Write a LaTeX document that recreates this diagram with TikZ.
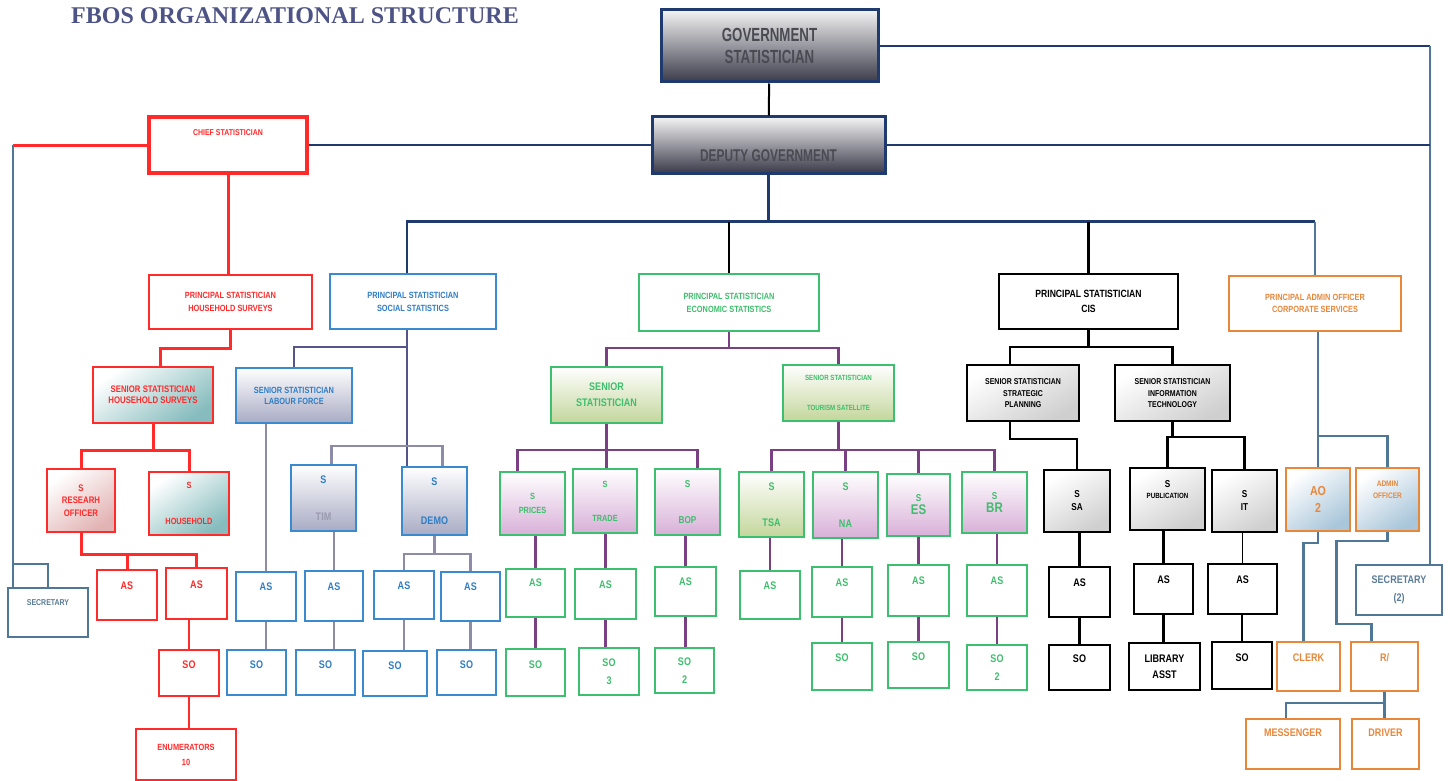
\documentclass[tikz,border=0pt]{standalone}
\usepackage{fontspec}
\newfontfamily\chartfont[FakeStretch=0.82]{Liberation Sans}
\newfontfamily\headfont[FakeStretch=0.7]{Liberation Sans}
\newfontfamily\titlefont{Liberation Serif}
\usetikzlibrary{positioning}
\usetikzlibrary{calc}

\definecolor{govNavy}{HTML}{1F3A6E}
\definecolor{steel}{HTML}{4F7796}
\definecolor{steelText}{HTML}{5B7C98}
\definecolor{chartRed}{HTML}{FF2A2A}
\definecolor{socBlue}{HTML}{3A8AD0}
\definecolor{socText}{HTML}{2E7DC6}
\definecolor{socLineC}{HTML}{55558A}
\definecolor{socGray}{HTML}{8C8CA8}
\definecolor{timGray}{HTML}{9A9AAE}
\definecolor{ecoGreen}{HTML}{3CC070}
\definecolor{ecoText}{HTML}{3DBE6C}
\definecolor{ecoPurple}{HTML}{7B3F84}
\definecolor{adminOrange}{HTML}{E8873A}
\definecolor{titleBlue}{HTML}{4D5385}
\definecolor{topLight}{HTML}{F4F4F4}
\definecolor{topDark}{HTML}{3A3A4A}
\definecolor{topText}{HTML}{4A4A52}
\definecolor{tealFill}{HTML}{86BCBD}
\definecolor{pinkFill}{HTML}{E2B3B3}
\definecolor{slateFill}{HTML}{A8ABC4}
\definecolor{oliveFill}{HTML}{C3D69B}
\definecolor{lavFill}{HTML}{D8B0D8}
\definecolor{grayFill}{HTML}{CFCFCF}
\definecolor{iceFill}{HTML}{A9C6DA}

\tikzset{
  box/.style={draw, line width=1.5pt, align=center, inner sep=1pt, fill=white},
  wh/.style 2 args={minimum width=#1pt, minimum height=#2pt},
  fsz/.style={font=\chartfont\bfseries\fontsize{#1}{#1}\selectfont},
  liftText/.style={text depth=#1},
  topBox/.style={draw=govNavy, line width=3pt, align=center, top color=topLight, bottom color=topDark, text=topText},
  redBox/.style={box, draw=chartRed, text=chartRed},
  blueBox/.style={box, draw=socBlue, text=socText},
  greenBox/.style={box, draw=ecoGreen, text=ecoText},
  cisBox/.style={box, draw=black, text=black},
  orangeBox/.style={box, draw=adminOrange, text=adminOrange},
  steelBox/.style={box, draw=steel, text=steelText},
  tealShade/.style={top color=white, bottom color=tealFill, shading angle=35},
  pinkShade/.style={top color=white, bottom color=pinkFill, shading angle=35},
  slateShade/.style={top color=white, bottom color=slateFill},
  oliveShade/.style={top color=white, bottom color=oliveFill},
  lavShade/.style={top color=white, bottom color=lavFill},
  grayShade/.style={top color=white, bottom color=grayFill, shading angle=30},
  iceShade/.style={top color=white, bottom color=iceFill, shading angle=35},
  navyLine/.style={draw=govNavy, line width=2.6pt},
  steelLine/.style={draw=steel, line width=2.4pt},
  steelThin/.style={draw=steel, line width=1.3pt},
  redThick/.style={draw=chartRed, line width=3pt},
  redThin/.style={draw=chartRed, line width=1.5pt},
  socLine/.style={draw=socLineC, line width=2.4pt},
  grayLine/.style={draw=socGray, line width=2.4pt},
  purpleLine/.style={draw=ecoPurple, line width=2.4pt},
  purpleThin/.style={draw=ecoPurple, line width=1.3pt},
  blackLine/.style={draw=black, line width=2.4pt},
  blackThin/.style={draw=black, line width=1.3pt},
}

\begin{document}
\begin{tikzpicture}[x=1pt, y=-1pt]
  \useasboundingbox (0,0) rectangle (1450,781);

  % head of the office
  \node[font=\titlefont\bfseries\fontsize{24}{24}\selectfont, text=titleBlue] (title) at (295,16) {FBOS ORGANIZATIONAL STRUCTURE};
  \node[topBox, wh={217}{72}, font=\headfont\bfseries\fontsize{19}{19}\selectfont] (govStat) at (769.5,46) {GOVERNMENT\\[3pt]STATISTICIAN};
  \node[topBox, wh={233}{56}, text height=34pt, font=\headfont\bfseries\fontsize{17}{17}\selectfont] (deputy) at (768.5,145) {DEPUTY GOVERNMENT};
  \node[redBox, line width=4pt, wh={158}{56}, fsz=8.5, liftText=24pt] (chief) at (228,145) {CHIEF STATISTICIAN};
  \node[steelBox, wh={80}{49}, fsz=8.5, liftText=20pt] (secLeft) at (48,612.5) {SECRETARY};
  \node[steelBox, wh={86}{50}, fsz=11] (sec2) at (1399,590) {SECRETARY\\[7pt](2)};

  % household surveys
  \node[redBox, wh={163}{54}, fsz=9] (psHousehold) at (230.5,302) {PRINCIPAL STATISTICIAN\\[4pt]HOUSEHOLD SURVEYS};
  \node[redBox, tealShade, wh={120}{56}, fsz=9.5] (seniorHousehold) at (153,395) {SENIOR STATISTICIAN\\[1.5pt]HOUSEHOLD SURVEYS};
  \node[redBox, pinkShade, wh={68}{63}, fsz=9.5] (sResearch) at (81,500.5) {S\\[3pt]RESEARH\\[3pt]OFFICER};
  \node[redBox, tealShade, wh={80}{63}, fsz=9] (sHousehold) at (189,503.5) {S\\[27pt]HOUSEHOLD};
  \node[redBox, wh={60}{50}, fsz=11, liftText=18pt] (asResA) at (127,595) {AS};
  \node[redBox, wh={61}{51}, fsz=11, liftText=17pt] (asResB) at (196.5,593.5) {AS};
  \node[redBox, wh={60}{46}, fsz=11, liftText=16pt] (soRes) at (189,673) {SO};
  \node[redBox, wh={100}{51}, fsz=9] (enumerators) at (186,754.5) {ENUMERATORS\\[6pt]10};

  % social statistics
  \node[blueBox, wh={166}{55}, fsz=9] (psSocial) at (413,301.5) {PRINCIPAL STATISTICIAN\\[4pt]SOCIAL STATISTICS};
  \node[blueBox, slateShade, wh={116}{55}, fsz=9] (seniorLabour) at (294,395.5) {SENIOR STATISTICIAN\\[2pt]LABOUR FORCE};
  \node[blueBox, slateShade, wh={65}{66}, fsz=11] (sTim) at (323.5,498) {S\\[26pt]\textcolor{timGray}{TIM}};
  \node[blueBox, slateShade, wh={65}{68}, fsz=11] (sDemo) at (434.5,501) {S\\[28pt]DEMO};
  \node[blueBox, wh={60}{49}, fsz=11, liftText=19pt] (asLabour) at (266,596.5) {AS};
  \node[blueBox, wh={58}{50}, fsz=11, liftText=18pt] (asTim) at (334,596) {AS};
  \node[blueBox, wh={60}{48}, fsz=11, liftText=18pt] (asDemoA) at (404,595) {AS};
  \node[blueBox, wh={59}{49}, fsz=11, liftText=19pt] (asDemoB) at (470.5,596.5) {AS};
  \node[blueBox, wh={59}{45}, fsz=11, liftText=15pt] (soLabour) at (256.5,672.5) {SO};
  \node[blueBox, wh={59}{45}, fsz=11, liftText=15pt] (soTim) at (325.5,672.5) {SO};
  \node[blueBox, wh={64}{45}, fsz=11, liftText=15pt] (soDemoA) at (395,673.5) {SO};
  \node[blueBox, wh={59}{45}, fsz=11, liftText=15pt] (soDemoB) at (466.5,672.5) {SO};

  % economic statistics
  \node[greenBox, wh={180}{57}, fsz=9] (psEconomic) at (729,302.5) {PRINCIPAL STATISTICIAN\\[4pt]ECONOMIC STATISTICS};
  \node[greenBox, oliveShade, wh={111}{56}, fsz=11] (seniorEconomic) at (606.5,395) {SENIOR\\[5pt]STATISTICIAN};
  \node[greenBox, oliveShade, wh={111}{56}, fsz=7.5] (seniorTourism) at (838.5,393) {SENIOR STATISTICIAN\\[23pt]TOURISM SATELLITE};
  \node[greenBox, lavShade, wh={65}{63}, fsz=9] (sPrices) at (532.5,503.5) {S\\[5pt]PRICES};
  \node[greenBox, lavShade, wh={64}{64}, fsz=9] (sTrade) at (605,501) {S\\[25pt]TRADE};
  \node[greenBox, lavShade, wh={65}{66}, fsz=10] (sBop) at (687.5,502) {S\\[26pt]BOP};
  \node[greenBox, oliveShade, wh={65}{65}, fsz=11] (sTsa) at (771.5,504.5) {S\\[25pt]TSA};
  \node[greenBox, lavShade, wh={65}{66}, fsz=11] (sNa) at (845.5,505) {S\\[26pt]NA};
  \node[greenBox, lavShade, wh={63}{62}, fsz=10] (sEs) at (918.5,505) {S\\[3pt]{\fontsize{14}{14}\selectfont ES}};
  \node[greenBox, lavShade, wh={65}{61}, fsz=10] (sBr) at (994.5,502.5) {S\\[3pt]{\fontsize{14}{14}\selectfont BR}};
  \node[greenBox, wh={59}{48}, fsz=11, liftText=20pt] (asPrices) at (535.5,593) {AS};
  \node[greenBox, wh={61}{50}, fsz=11, liftText=18pt] (asTrade) at (605.5,594) {AS};
  \node[greenBox, wh={61}{49}, fsz=11, liftText=19pt] (asBop) at (685.5,591.5) {AS};
  \node[greenBox, wh={60}{48}, fsz=11, liftText=18pt] (asTsa) at (770,595) {AS};
  \node[greenBox, wh={60}{50}, fsz=11, liftText=18pt] (asNa) at (842,592) {AS};
  \node[greenBox, wh={61}{51}, fsz=11, liftText=19pt] (asEs) at (918.5,590.5) {AS};
  \node[greenBox, wh={60}{51}, fsz=11, liftText=19pt] (asBr) at (997,590.5) {AS};
  \node[greenBox, wh={59}{47}, fsz=11, liftText=15pt] (soPrices) at (535.5,672.5) {SO};
  \node[greenBox, wh={60}{47}, fsz=11] (soTrade) at (609,671.5) {SO\\[7pt]3};
  \node[greenBox, wh={59}{45}, fsz=11] (soBop) at (684.5,670.5) {SO\\[7pt]2};
  \node[greenBox, wh={60}{47}, fsz=11, liftText=17pt] (soNa) at (842,666.5) {SO};
  \node[greenBox, wh={61}{46}, fsz=11, liftText=16pt] (soEs) at (918.5,665) {SO};
  \node[greenBox, wh={60}{45}, fsz=11] (soBr) at (997,667.5) {SO\\[7pt]2};

  % cis
  \node[cisBox, wh={179}{55}, fsz=10.5] (psCis) at (1088.5,301.5) {PRINCIPAL STATISTICIAN\\[4pt]CIS};
  \node[cisBox, grayShade, wh={112}{56}, fsz=8.5] (seniorPlanning) at (1023,393) {SENIOR STATISTICIAN\\[4pt]STRATEGIC\\[2pt]PLANNING};
  \node[cisBox, grayShade, wh={115}{56}, fsz=8.5] (seniorIT) at (1172.5,393) {SENIOR STATISTICIAN\\[4pt]INFORMATION\\[2pt]TECHNOLOGY};
  \node[cisBox, grayShade, wh={66}{62}, fsz=10] (sSa) at (1077,501) {S\\[3pt]SA};
  \node[cisBox, grayShade, wh={75}{62}, fsz=10] (sPub) at (1167.5,499) {S\\[1pt]{\fontsize{7.5}{7.5}\selectfont PUBLICATION}\\[9pt]~};
  \node[cisBox, grayShade, wh={65}{62}, fsz=10] (sIt) at (1244.5,501) {S\\[3pt]IT};
  \node[cisBox, wh={61}{50}, fsz=11, liftText=18pt] (asSa) at (1079.5,592) {AS};
  \node[cisBox, wh={59}{50}, fsz=11, liftText=18pt] (asPub) at (1163.5,589) {AS};
  \node[cisBox, wh={69}{50}, fsz=11, liftText=18pt] (asIt) at (1242.5,589) {AS};
  \node[cisBox, wh={61}{45}, fsz=11, liftText=17pt] (soSa) at (1079.5,667.5) {SO};
  \node[cisBox, wh={71}{47}, fsz=11] (library) at (1164.5,666.5) {LIBRARY\\[5pt]ASST};
  \node[cisBox, wh={60}{47}, fsz=11, liftText=15pt] (soIt) at (1242,665.5) {SO};

  % corporate services
  \node[orangeBox, wh={172}{55}, fsz=9] (psAdmin) at (1315,303.5) {PRINCIPAL ADMIN OFFICER\\[3pt]CORPORATE SERVICES};
  \node[orangeBox, iceShade, wh={64}{63}, fsz=13] (ao) at (1318,499.5) {AO\\[4pt]2};
  \node[orangeBox, iceShade, wh={63}{63}, fsz=8] (adminOfficer) at (1387.5,499.5) {ADMIN\\[4pt]OFFICER\\[11pt]~};
  \node[orangeBox, wh={63}{49}, fsz=11, liftText=17pt] (clerk) at (1308.5,666.5) {CLERK};
  \node[orangeBox, wh={67}{49}, fsz=11, liftText=17pt] (rSlash) at (1384.5,666.5) {R/};
  \node[orangeBox, wh={94}{50}, fsz=11, liftText=22pt] (messenger) at (1293,744) {MESSENGER};
  \node[orangeBox, wh={67}{50}, fsz=11, liftText=22pt] (driver) at (1385.5,744) {DRIVER};

  % top links
  \coordinate (rightRail) at (1430,46);
  \coordinate (leftRail) at (13,145);
  \coordinate (secBranch) at (13,564);
  \draw[line width=2pt] (govStat) -- (deputy);
  \draw[navyLine] (govStat.east) -- (rightRail);
  \draw[steelLine] (rightRail) -- (rightRail |- sec2.north);
  \draw[navyLine] (deputy.east) -- (deputy.east -| rightRail);
  \draw[navyLine] (deputy.west) -- (chief.east);
  \draw[redThick] (chief.west) -- (leftRail);
  \draw[steelLine] (leftRail) -- (leftRail |- secLeft.north);
  \draw[steelLine] (secBranch) -| (secLeft.north);
  \draw[navyLine] (deputy.south) -- ++(0,47) coordinate (mainBus);
  \draw[navyLine] ($(psSocial.north)+(-6,0)$) |- (mainBus) -- (mainBus -| psAdmin.north);
  \draw[steelLine] (mainBus -| psAdmin.north) -- (psAdmin.north);
  \draw[blackLine] (mainBus -| psEconomic.north) -- (psEconomic.north);
  \draw[blackLine] (mainBus -| psCis.north) -- (psCis.north);

  % household links
  \draw[redThick] (chief.south) -- (chief.south |- psHousehold.north);
  \draw[redThick] (psHousehold.south) -- ++(0,19) -| ($(seniorHousehold.north)+(7,0)$);
  \draw[redThick] (seniorHousehold.south) -- ++(0,27) coordinate (hhBus);
  \draw[redThick] (sResearch.north) |- (hhBus) -| (sHousehold.north);
  \draw[redThick] (sResearch.south) -- ++(0,22) coordinate (resBus) -| (asResB.north);
  \draw[redThick] (resBus -| asResA.north) -- (asResA.north);
  \draw[redThin] (asResB.south -| soRes.north) -- (soRes.north);
  \draw[redThin] (soRes.south) -- (soRes.south |- enumerators.north);

  % social links
  \draw[socLine] ($(psSocial.south)+(-6,0)$) coordinate (socTop) -- (socTop |- sDemo.north);
  \draw[socLine] (socTop) -- ++(0,17) -| (seniorLabour.north);
  \draw[grayLine] (seniorLabour.south -| asLabour.north) -- (asLabour.north);
  \draw[grayLine] ($(sTim.north)+(8,0)$) -- ++(0,-18) -| ($(sDemo.north)+(8,0)$);
  \draw[grayLine] (sTim.south -| asTim.north) -- (asTim.north);
  \draw[grayLine] (sDemo.south) -- ++(0,18) coordinate (demoBus);
  \draw[grayLine] (asDemoA.north) |- (demoBus) -| (asDemoB.north);
  \draw[grayLine] (asLabour.south) -- (asLabour.south |- soLabour.north);
  \draw[grayLine] (asTim.south) -- (asTim.south |- soTim.north);
  \draw[grayLine] (asDemoA.south) -- (asDemoA.south |- soDemoA.north);
  \draw[grayLine] (asDemoB.south) -- (asDemoB.south |- soDemoB.north);

  % economic links
  \draw[purpleLine] (psEconomic.south) -- ++(0,16) coordinate (ecoBus);
  \draw[purpleLine] (seniorEconomic.north) |- (ecoBus) -| (seniorTourism.north);
  \draw[purpleLine] (seniorEconomic.south) -- ++(0,26) coordinate (sBus);
  \draw[purpleLine] ($(sPrices.north)+(-15,0)$) |- (sBus) -| ($(sBop.north)+(10,0)$);
  \draw[purpleLine] (sBus) -- (sBus |- sTrade.north);
  \draw[purpleLine] (sPrices.south -| asPrices.north) -- (asPrices.north);
  \draw[purpleLine] (asPrices.south) -- (asPrices.south |- soPrices.north);
  \draw[purpleLine] (sTrade.south -| asTrade.north) -- (asTrade.north);
  \draw[purpleLine] (asTrade.south) -- (asTrade.south |- soTrade.north);
  \draw[purpleLine] (sBop.south -| asBop.north) -- (asBop.north);
  \draw[purpleLine] (asBop.south) -- (asBop.south |- soBop.north);
  \draw[purpleLine] (seniorTourism.south) -- ++(0,28) coordinate (tourBus);
  \draw[purpleLine] (sTsa.north) |- (tourBus) -| (sBr.north);
  \draw[purpleLine] (tourBus -| sNa.north) -- (sNa.north);
  \draw[purpleLine] (tourBus -| sEs.north) -- (sEs.north);
  \draw[purpleThin] (sTsa.south -| asTsa.north) -- (asTsa.north);
  \draw[purpleLine] (sNa.south -| asNa.north) -- (asNa.north);
  \draw[purpleLine] (asNa.south) -- (asNa.south |- soNa.north);
  \draw[purpleLine] (sEs.south) -- (sEs.south |- asEs.north);
  \draw[purpleLine] (asEs.south) -- (asEs.south |- soEs.north);
  \draw[purpleLine] (sBr.south -| asBr.north) -- (asBr.north);
  \draw[purpleLine] (asBr.south) -- (asBr.south |- soBr.north);

  % cis links
  \draw[blackLine] (psCis.south) -- ++(0,17) coordinate (cisBus);
  \draw[blackLine] ($(seniorPlanning.north)+(-13,0)$) |- (cisBus) -| (seniorIT.north);
  \draw[blackLine] ($(seniorPlanning.south)+(-13,0)$) -- ++(0,17) -| (sSa.north);
  \draw[blackLine] (seniorIT.south) -- ++(0,15) coordinate (itBus) -| (sIt.north);
  \draw[blackLine] (itBus) -| (sPub.north);
  \draw[blackLine] (sSa.south -| asSa.north) -- (asSa.north);
  \draw[blackLine] (asSa.south) -- (asSa.south |- soSa.north);
  \draw[blackLine] (sPub.south -| asPub.north) -- (asPub.north);
  \draw[blackLine] (asPub.south) -- (asPub.south |- library.north);
  \draw[blackThin] (sIt.south -| asIt.north) -- (asIt.north);
  \draw[blackThin] (asIt.south -| soIt.north) -- (soIt.north);

  % corporate services links
  \draw[steelThin] (ao.north |- psAdmin.south) -- (ao.north);
  \draw[steelLine] ($(ao.north)+(0,-31)$) -| (adminOfficer.north);
  \draw[steelLine] (ao.south) -- ++(0,11) -| ($(clerk.north)+(-5,0)$);
  \draw[steelLine] (adminOfficer.south) -- ++(0,9) -- ++(-51,0) -- ++(0,83) -| ($(rSlash.north)+(-13,0)$);
  \draw[steelLine] (rSlash.south) -- ++(0,11) coordinate (rBus) -| ($(messenger.north)+(-7,0)$);
  \draw[steelLine] (rBus) -- (rBus |- driver.north);
\end{tikzpicture}
\end{document}
